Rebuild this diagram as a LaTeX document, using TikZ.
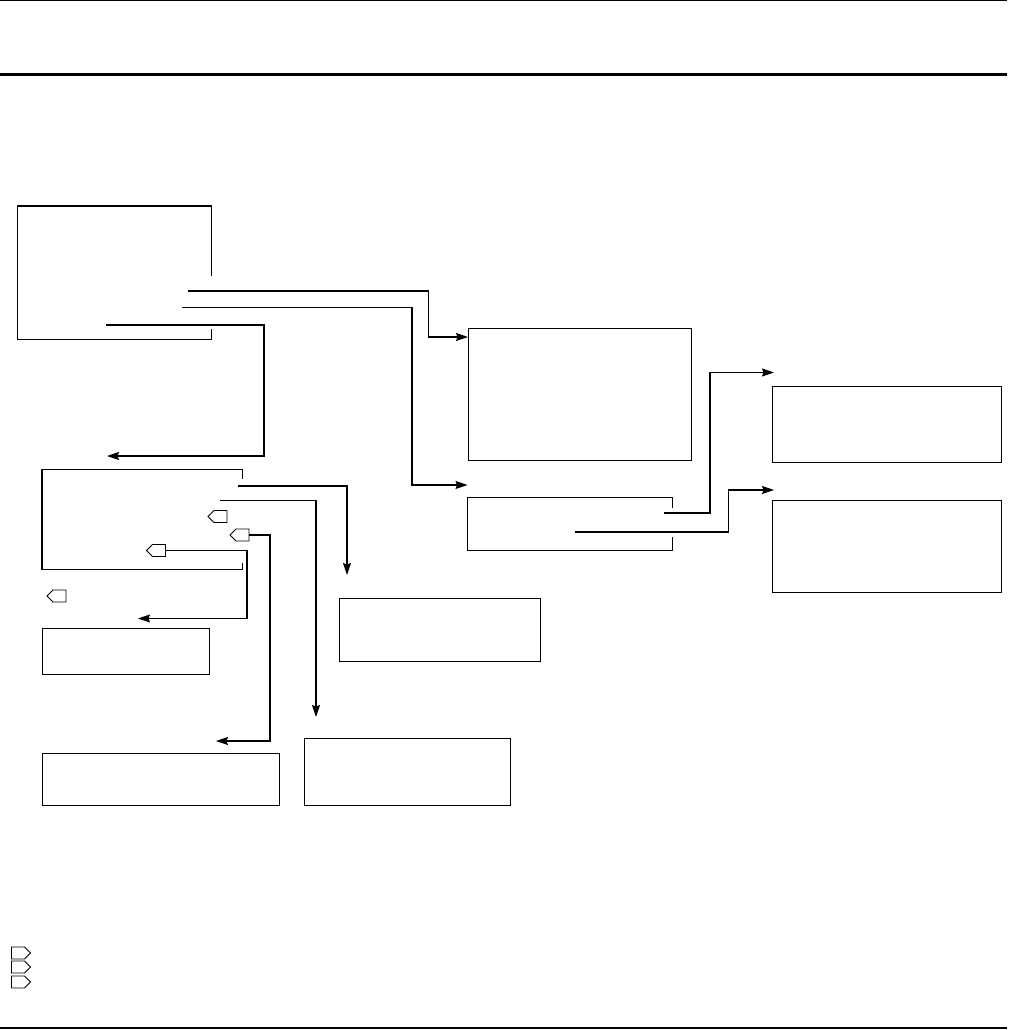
\documentclass[tikz,border=0pt]{standalone}
\usepackage{tikz}
\usetikzlibrary{arrows.meta,shapes.symbols}

\begin{document}
\begin{tikzpicture}[x=1pt,y=-1pt,
  box/.style={draw,line width=1.2pt,inner sep=0pt,anchor=north west},
  openbox/.style={box,draw=none},
  edge/.style={line width=1.2pt},
  arr/.style={edge,-{Stealth[length=12pt,width=8pt,inset=1.5pt]}},
  tag/.style={signal,signal to=west,draw,line width=0.9pt,minimum width=19pt,minimum height=12pt,inner sep=0pt},
  tagr/.style={tag,signal to=east}]
\useasboundingbox (0,0) rectangle (1009,1030);
\draw[line width=1pt] (0,0.8) -- (1007,0.8);
\draw[line width=2.5pt] (0,74.5) -- (1007,74.5);
\draw[line width=2.5pt] (0,1028) -- (1007,1028);
\node[openbox,minimum width=193pt,minimum height=132pt] (src) at (17.5,206) {};
\node[box,minimum width=222.5pt,minimum height=132pt] (mid) at (468,328) {};
\node[openbox,minimum width=204pt,minimum height=51.5pt] (mux) at (467.5,497.5) {};
\node[box,minimum width=229pt,minimum height=76pt] (outa) at (772,386) {};
\node[box,minimum width=229pt,minimum height=92pt] (outb) at (772,500) {};
\node[openbox,minimum width=199.5pt,minimum height=98.5pt] (hub) at (42,469.5) {};
\node[box,minimum width=166.5pt,minimum height=46.5pt] (sinka) at (42,627.5) {};
\node[box,minimum width=237pt,minimum height=52.5pt] (sinkb) at (42,752.5) {};
\node[box,minimum width=201.5pt,minimum height=63.5pt] (taila) at (338.5,597.5) {};
\node[box,minimum width=206.5pt,minimum height=67.5pt] (tailb) at (303.5,737.5) {};
\draw[edge] ([yshift=-70pt]src.north east) -- (src.north east) -- (src.north west) -- (src.south west) -- (src.south east) -- ++(0,-10);
\draw[edge] ([yshift=-10.5pt]mux.north east) -- (mux.north east) -- (mux.north west) -- (mux.south west) -- (mux.south east) -- ++(0,-13);
\draw[edge] ([yshift=-9.5pt]hub.north east) -- (hub.north east) -- (hub.north west) -- (hub.south west) -- (hub.south east) -- ++(0,-6);
\node[tag] (ta) at (220.5,516.5) {};
\node[tag] (tb) at (242.5,535) {};
\node[tag] (tc) at (159,550.5) {};
\node[tag] (td) at (59.5,596) {};
\node[tagr] (ka) at (18,953) {};
\node[tagr] (kb) at (18,967) {};
\node[tagr] (kc) at (18,982) {};
\coordinate (s1) at (188,291); \coordinate (s2) at (182,307.5); \coordinate (s3) at (106,325);
\coordinate (s4) at (664,513); \coordinate (s5) at (575,532);
\coordinate (s6) at (238,486); \coordinate (s7) at (220,500.5);
\draw[arr] (s1) -| ([xshift=-39.5pt,yshift=-9pt]mid.north west) -- ([yshift=-9pt]mid.north west);
\draw[arr] (s2) -| ([xshift=-55.5pt,yshift=12.5pt]mux.north west) -- ([yshift=12.5pt]mux.north west);
\draw[arr] (s3) -| ([xshift=222pt,yshift=13.5pt]hub.north west) -- ([xshift=65pt,yshift=13.5pt]hub.north west);
\draw[arr] (s4) -| ([xshift=-62pt,yshift=13.5pt]outa.north west) -- ([xshift=2pt,yshift=13.5pt]outa.north west);
\draw[arr] (s5) -| ([xshift=-43.5pt,yshift=10pt]outb.north west) -- ([xshift=2pt,yshift=10pt]outb.north west);
\draw[arr] (s6) -| ([xshift=8.5pt,yshift=22.5pt]taila.north west);
\draw[arr] (s7) -| ([xshift=12.5pt,yshift=20.5pt]tailb.north west);
\draw[arr] (tc.east) -| ([xshift=205pt,yshift=9pt]sinka.north west) -- ([xshift=96pt,yshift=9pt]sinka.north west);
\draw[arr] (tb.east) -| ([xshift=228pt,yshift=11.5pt]sinkb.north west) -- ([xshift=174pt,yshift=11.5pt]sinkb.north west);
\end{tikzpicture}
\end{document}
